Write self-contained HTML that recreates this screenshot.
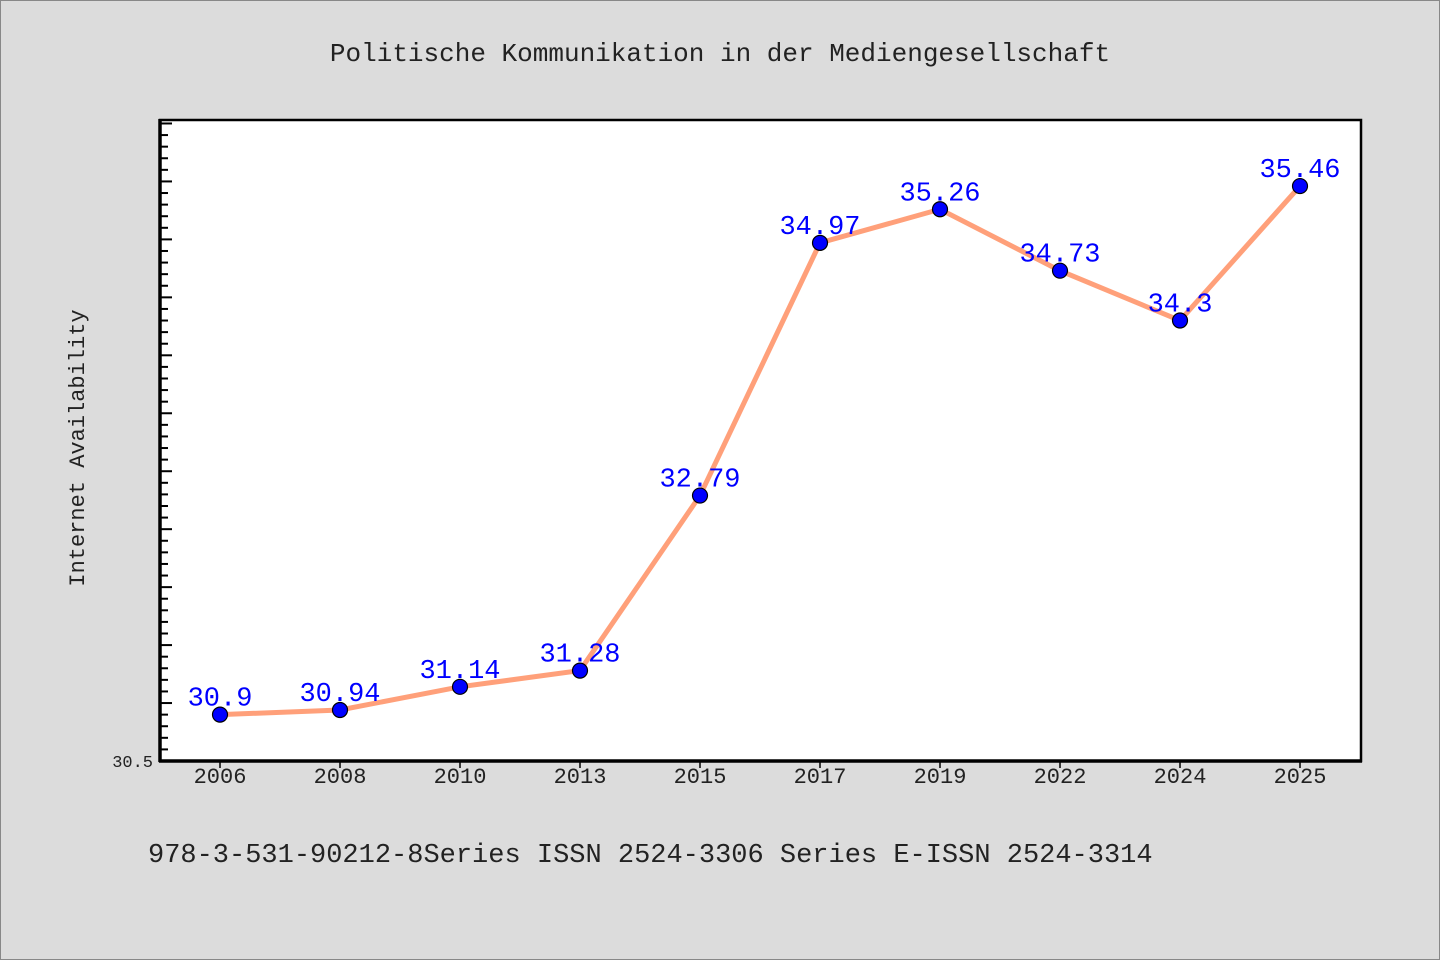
<!DOCTYPE html>
<html><head><meta charset="utf-8"><style>
body{margin:0;background:#dcdcdc;}
svg{display:block;font-family:"Liberation Mono","Noto Sans CJK SC",monospace;}
</style></head><body>
<svg width="1440" height="960">
<rect x="0.5" y="0.5" width="1439" height="959" fill="#dcdcdc" stroke="#888"/>
<text x="720" y="61" text-anchor="middle" font-size="26" fill="#222">Politische Kommunikation in der Mediengesellschaft</text>
<rect x="160" y="120" width="1201" height="641" fill="#fff" stroke="#000" stroke-width="2.5"/>
<g id="yticks"></g>
<g id="xticks"></g>
<text transform="translate(84,448) rotate(-90)" text-anchor="middle" font-size="22" fill="#222">Internet Availability</text>
<g id="series"></g>
<text x="148" y="862" font-size="27" fill="#222">978-3-531-90212-8Series ISSN 2524-3306 Series E-ISSN 2524-3314</text>
<line x1="160" y1="119" x2="160" y2="762" stroke="#000" stroke-width="3.5"/>
<line x1="159" y1="761" x2="1362" y2="761" stroke="#000" stroke-width="3.5"/>
</svg>
<script>
const categories=["2006","2008","2010","2013","2015","2017","2019","2022","2024","2025"];
const values=[30.9,30.94,31.14,31.28,32.79,34.97,35.26,34.73,34.3,35.46];
const yMin=30.5, yMax=36.03;
const ns="http://www.w3.org/2000/svg";
const X0=220, DX=120, YB=761, YT=120;
const xs=i=>X0+i*DX;
const ys=v=>YB-(v-yMin)/(yMax-yMin)*(YB-YT);
function mk(t,a,p){const e=document.createElementNS(ns,t);for(const k in a)e.setAttribute(k,a[k]);p.appendChild(e);return e;}
const yt=document.getElementById('yticks');
for(let k=1;;k++){const v=yMin+k*0.1;if(v>yMax)break;const y=ys(v);const major=k%5===0;
const l=mk('line',{x1:160,x2:160+(major?12:8),y1:y,y2:y,stroke:'#000','stroke-width':2},yt);

}
const yl=mk('text',{x:153,y:767,'text-anchor':'end','font-size':17,fill:'#222'},yt);yl.textContent="30.5";


const xt=document.getElementById('xticks');
categories.forEach((c,i)=>{const x=xs(i);
const l=mk('line',{x1:x,x2:x,y1:761,y2:768,stroke:'#000','stroke-width':1.5},xt);


const t=mk('text',{x:x,y:783,'text-anchor':'middle','font-size':22,fill:'#222'},xt);t.textContent=c;

});
const s=document.getElementById('series');
const pl=mk('polyline',{points:values.map((v,i)=>xs(i)+','+ys(v)).join(' '),fill:'none',stroke:'#ffa07a','stroke-width':5},s);


values.forEach((v,i)=>{
const c=mk('circle',{cx:xs(i),cy:ys(v),r:7.5,fill:'#0000ff',stroke:'#000','stroke-width':1.2},s);


const t=mk('text',{x:xs(i),y:ys(v)-9,'text-anchor':'middle','font-size':27,fill:'#0000ff'},s);t.textContent=String(v);

});
</script>
</body></html>
